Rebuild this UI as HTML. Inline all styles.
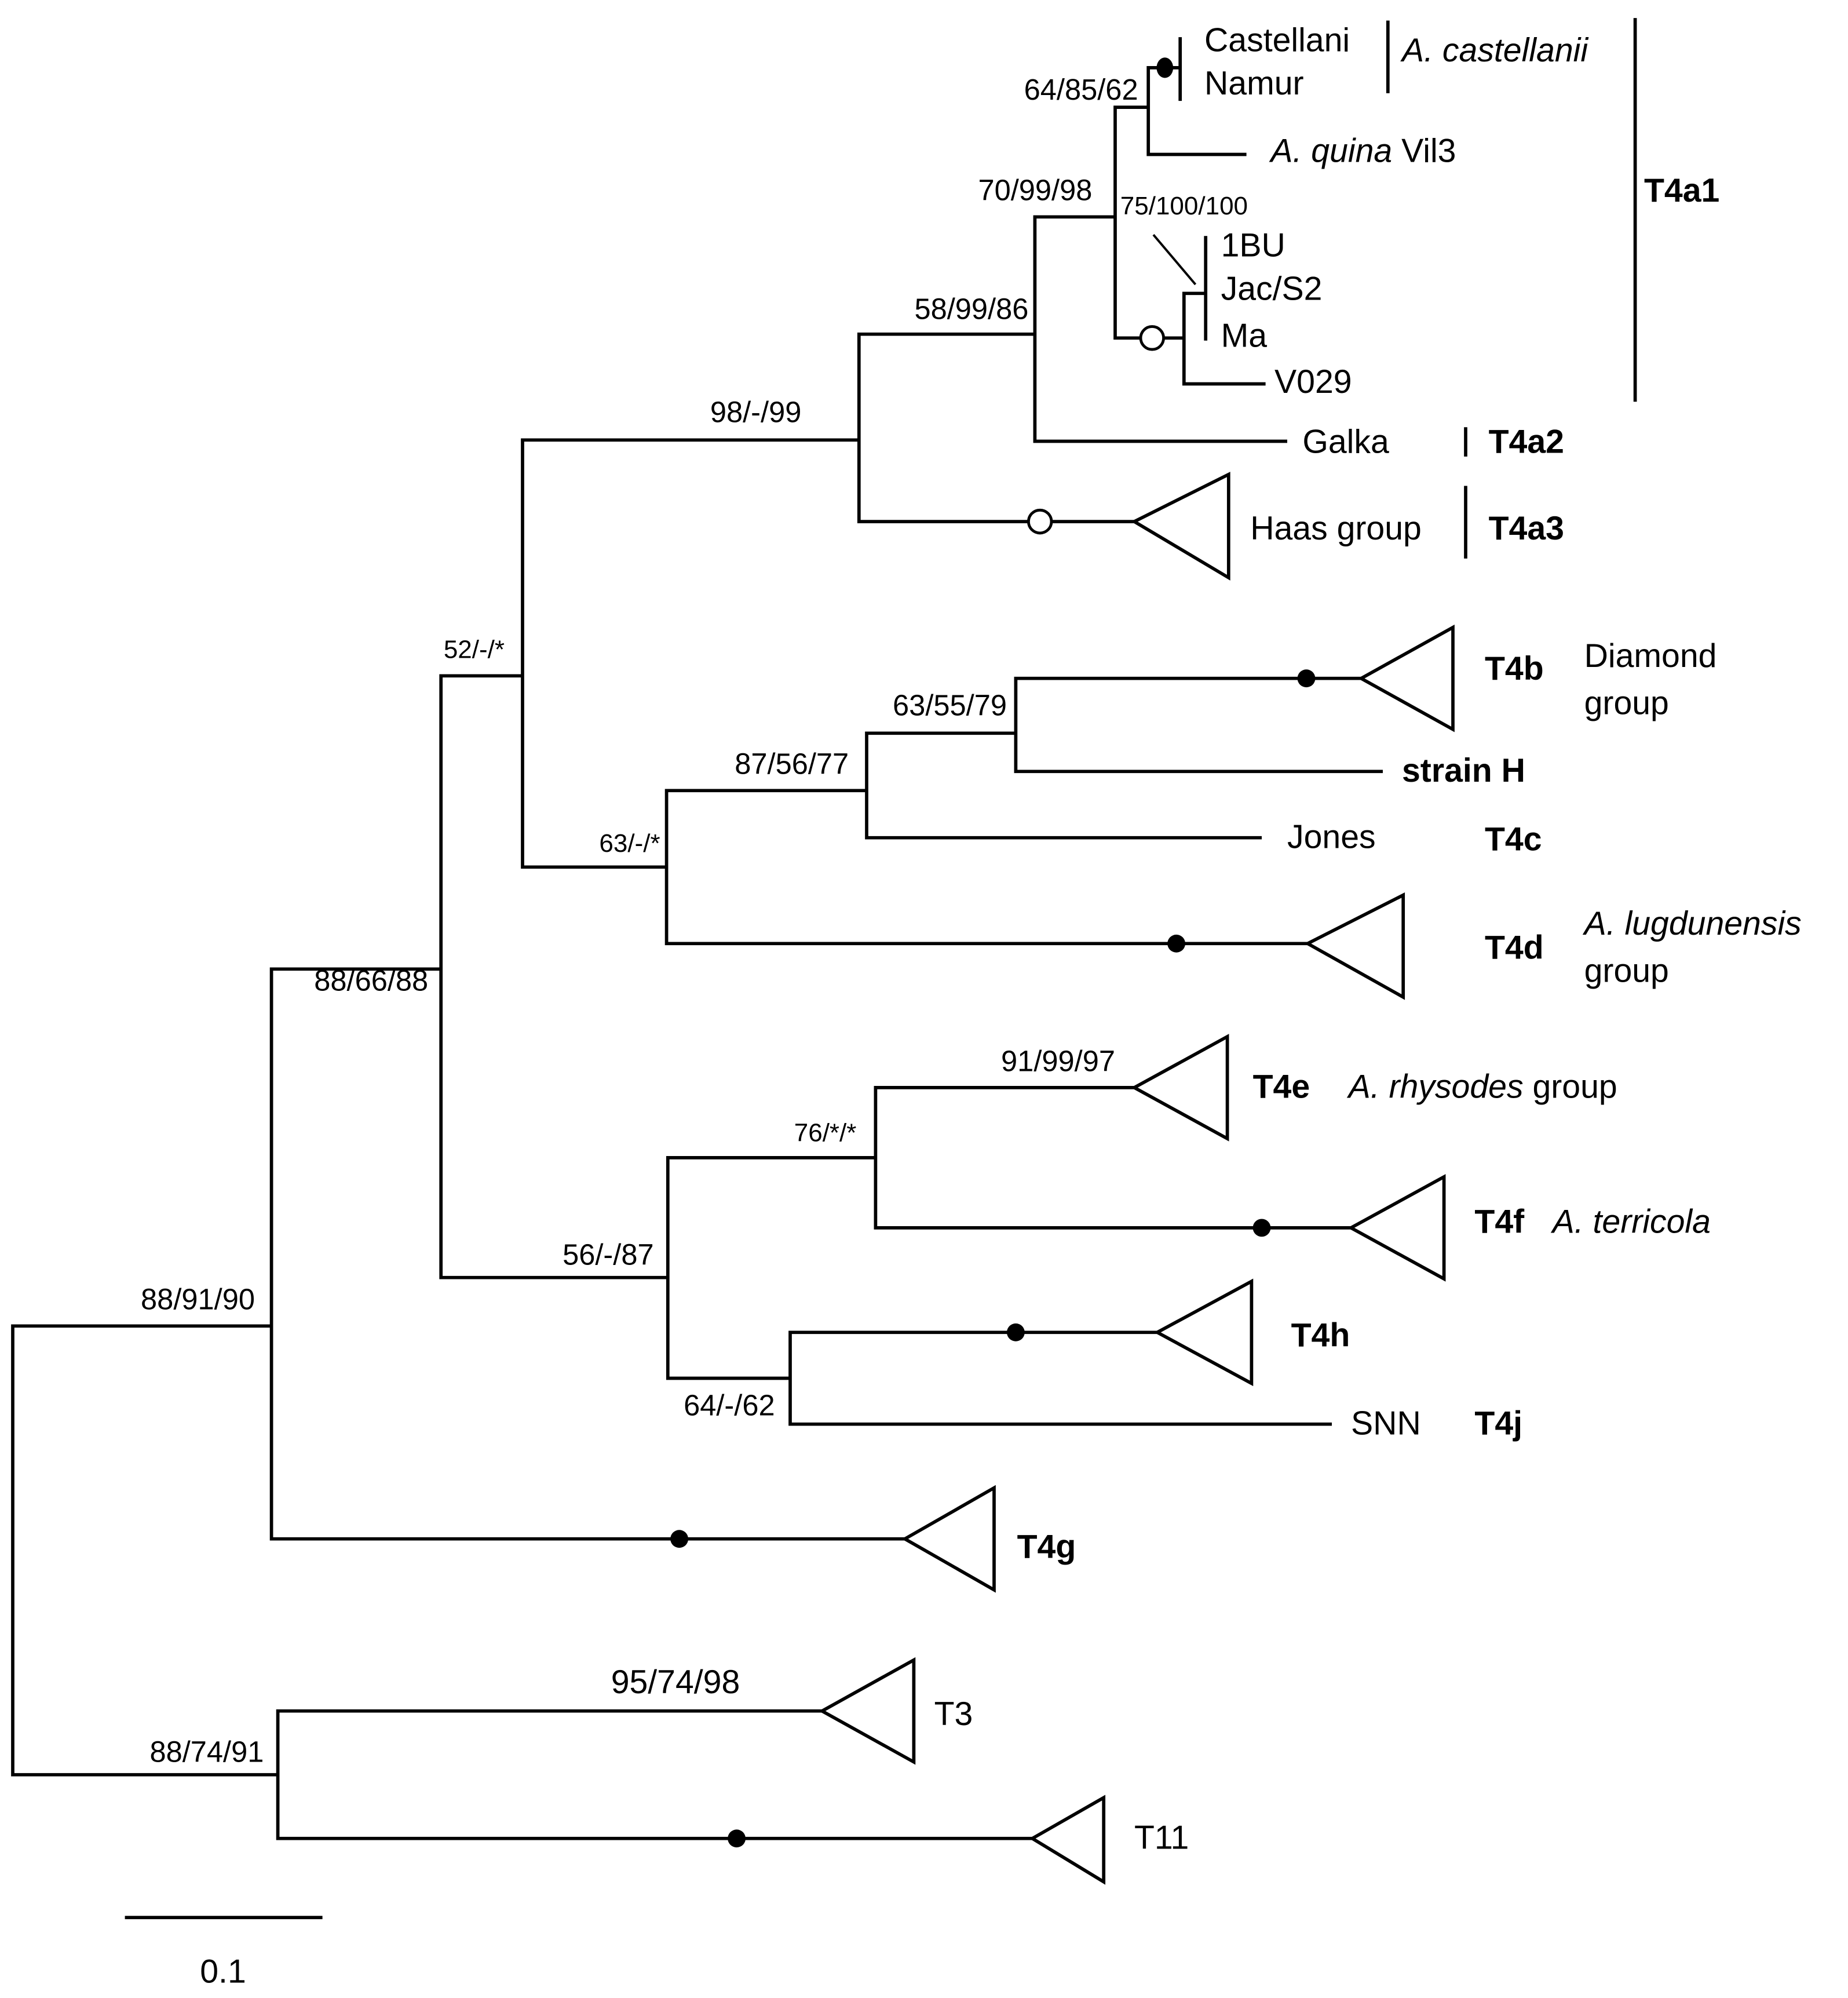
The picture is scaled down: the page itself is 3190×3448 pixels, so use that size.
<!DOCTYPE html>
<html><head><meta charset="utf-8"><style>
html,body{margin:0;padding:0;background:#fff;}
svg{display:block;}
text{font-family:"Liberation Sans",sans-serif;fill:#000;}
.n{font-size:26px;}
.b{font-size:26px;font-weight:bold;}
.s{font-size:23px;}
.xs{font-size:20px;}
</style></head><body>
<svg width="3190" height="3448" viewBox="0 0 1450 1567" xmlns="http://www.w3.org/2000/svg">
<g stroke="#000" stroke-width="2.6" fill="none">
<!-- root -->
<path d="M213,1040H10V1392H218"/>
<path d="M346,760H213V1207H710"/>
<path d="M645,1342H218V1442H810"/>
<!-- B -->
<path d="M410,530H346V1002H524"/>
<path d="M674,345H410V680H523"/>
<path d="M812,262H674V409H890"/>
<path d="M875,170H812V346H1010"/>
<path d="M901,84H875V265H929"/>
<path d="M926,53H901V121H978"/>
<path d="M946,230H929V301H993"/>
<path d="M946,185V267"/>
<path d="M926,29V79"/>
<path d="M905,184L938,223" stroke-width="1.8"/>
<path d="M1089,16V73"/>
<path d="M1283,14V315"/>
<path d="M1150,335V358"/>
<path d="M1150,381V438"/>
<!-- C lower -->
<path d="M680,620H523V740H1026"/>
<path d="M797,575H680V657H990"/>
<path d="M1068,532H797V605H1085"/>
<!-- B lower -->
<path d="M687,908H524V1081H620"/>
<path d="M890,853H687V963H1060"/>
<path d="M908,1045H620V1117H1045"/>
<!-- triangles -->
<path d="M890,409L964,372V453Z"/>
<path d="M1068,532L1140,492V572Z"/>
<path d="M1026,740L1101,702V782Z"/>
<path d="M890,853L963,813V893Z"/>
<path d="M1060,963L1133,923V1003Z"/>
<path d="M908,1045L982,1005V1085Z"/>
<path d="M710,1207L780,1167V1247Z"/>
<path d="M645,1342L717,1302V1382Z"/>
<path d="M810,1442L866,1410V1476Z"/>
<!-- scale -->
<path d="M98,1504H253"/>
</g>
<g fill="#000">
<ellipse cx="914" cy="53" rx="6.5" ry="8"/>
<circle cx="1025" cy="532" r="7"/>
<circle cx="923" cy="740" r="7"/>
<circle cx="990" cy="963" r="7"/>
<circle cx="797" cy="1045" r="7"/>
<circle cx="533" cy="1207" r="7"/>
<circle cx="578" cy="1442" r="7"/>
</g>
<g fill="#fff" stroke="#000" stroke-width="2.2">
<circle cx="904" cy="265" r="9"/>
<circle cx="816" cy="409" r="9"/>
</g>
<!-- names -->
<text class="n" x="945" y="40">Castellani</text>
<text class="n" x="945" y="74">Namur</text>
<text class="n" x="1100" y="48" font-style="italic">A. castellanii</text>
<text class="n" x="997" y="127"><tspan font-style="italic">A. quina</tspan> Vil3</text>
<text class="n" x="958" y="201">1BU</text>
<text class="n" x="958" y="235">Jac/S2</text>
<text class="n" x="958" y="272">Ma</text>
<text class="n" x="1000" y="308">V029</text>
<text class="b" x="1290" y="158">T4a1</text>
<text class="n" x="1022" y="355">Galka</text>
<text class="b" x="1168" y="355">T4a2</text>
<text class="n" x="981" y="423">Haas group</text>
<text class="b" x="1168" y="423">T4a3</text>
<text class="b" x="1165" y="533">T4b</text>
<text class="n" x="1243" y="523">Diamond</text>
<text class="n" x="1243" y="560">group</text>
<text class="b" x="1100" y="613">strain H</text>
<text class="n" x="1010" y="665">Jones</text>
<text class="b" x="1165" y="667">T4c</text>
<text class="b" x="1165" y="752">T4d</text>
<text class="n" x="1243" y="733" font-style="italic">A. lugdunensis</text>
<text class="n" x="1243" y="770">group</text>
<text class="b" x="983" y="861">T4e</text>
<text class="n" x="1058" y="861"><tspan font-style="italic">A. rhysodes</tspan> group</text>
<text class="b" x="1157" y="967">T4f</text>
<text class="n" x="1218" y="967" font-style="italic">A. terricola</text>
<text class="b" x="1013" y="1056">T4h</text>
<text class="n" x="1060" y="1125">SNN</text>
<text class="b" x="1157" y="1125">T4j</text>
<text class="b" x="798" y="1222">T4g</text>
<text class="n" x="733" y="1353">T3</text>
<text class="n" x="890" y="1450">T11</text>
<text class="n" x="175" y="1555" text-anchor="middle">0.1</text>
<!-- bootstrap -->
<g text-anchor="end">
<text class="s" x="893" y="78">64/85/62</text>
<text class="s" x="857" y="157">70/99/98</text>
<text class="s" x="807" y="250">58/99/86</text>
<text class="s" x="200" y="1027">88/91/90</text>
<text class="s" x="207" y="1382">88/74/91</text>
<text class="s" x="336" y="777">88/66/88</text>
<text class="s" x="666" y="607">87/56/77</text>
<text class="s" x="790" y="561">63/55/79</text>
<text class="s" x="513" y="992">56/-/87</text>
<text class="s" x="875" y="840">91/99/97</text>
<text class="s" x="608" y="1110">64/-/62</text>
<text class="xs" x="518" y="668">63/-/*</text>
<text class="xs" x="672" y="895">76/*/*</text>
</g>
<text class="s" x="593" y="331" text-anchor="middle">98/-/99</text>
<text class="xs" x="372" y="516" text-anchor="middle">52/-/*</text>
<text class="xs" x="879" y="168">75/100/100</text>
<text class="n" x="530" y="1328" text-anchor="middle">95/74/98</text>
</svg>
</body></html>
